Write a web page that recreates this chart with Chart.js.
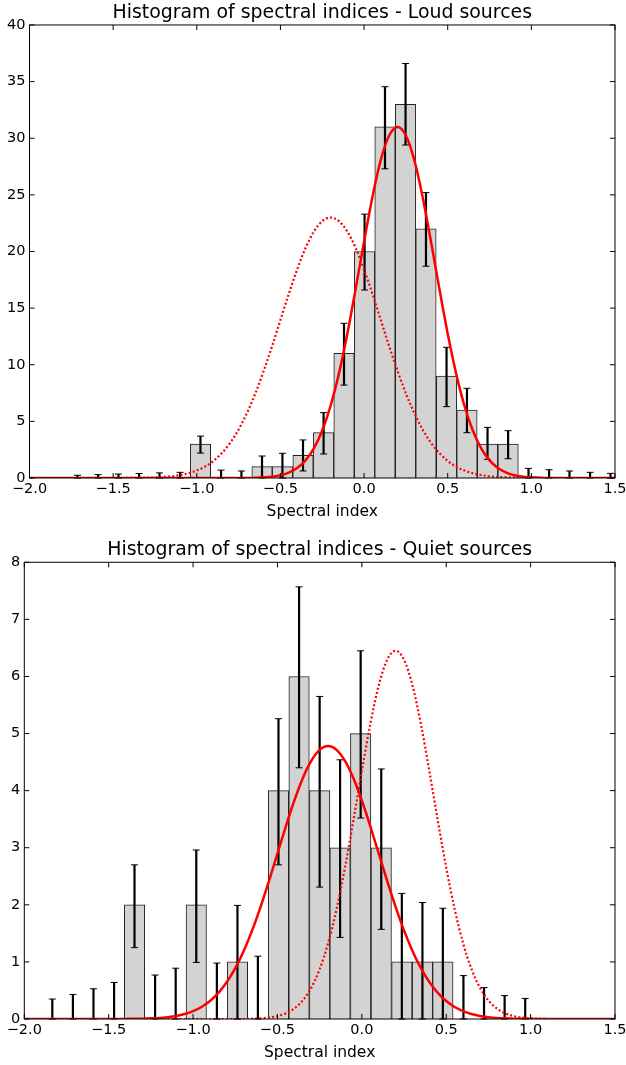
<!DOCTYPE html>
<html>
<head>
<meta charset="utf-8">
<script src="https://cdn.jsdelivr.net/npm/chart.js@4.4.1/dist/chart.umd.min.js"></script>
<style>
  body { margin: 0; background: #fff; }
  canvas { display: block; }
</style>
</head>
<body>
<canvas id="loudChart" width="626" height="530"></canvas>
<canvas id="quietChart" width="626" height="535"></canvas>
<script>
// ---- data ----

// loud sources histogram: bin centres, counts, error bar ends
var loudCenters = [-1.713, -1.590, -1.468, -1.345, -1.223, -1.100, -0.978, -0.855, -0.733,
  -0.610, -0.488, -0.365, -0.242, -0.120, 0.003, 0.125, 0.248, 0.370, 0.493, 0.615,
  0.738, 0.861, 0.983, 1.106, 1.228, 1.351, 1.473];
var loudCounts = [0, 0, 0, 0, 0, 0, 3, 0, 0, 1, 1, 2, 4, 11, 20, 31, 33, 22, 9, 6, 3, 3, 0, 0, 0, 0, 0];
var loudErrLow = [0, 0, 0, 0, 0, 0, 2.2, 0, 0, 0, 0, 0.62, 2.12, 8.2, 16.6, 27.3, 29.4, 18.7,
  6.3, 4.0, 1.65, 1.7, 0, 0, 0, 0, 0];
var loudErrHigh = [0.24, 0.3, 0.35, 0.4, 0.45, 0.5, 3.7, 0.7, 0.62, 1.94, 2.18, 3.36, 5.77,
  13.66, 23.3, 34.55, 36.6, 25.2, 11.54, 7.92, 4.47, 4.18, 0.85, 0.73, 0.62, 0.5, 0.41];

// quiet sources histogram
var quietCenters = [-1.834, -1.712, -1.590, -1.468, -1.347, -1.225, -1.103, -0.981, -0.859,
  -0.737, -0.616, -0.494, -0.372, -0.250, -0.129, -0.007, 0.115, 0.237, 0.359, 0.480,
  0.602, 0.724, 0.846, 0.968];
var quietCounts = [0, 0, 0, 0, 2, 0, 0, 2, 0, 1, 0, 4, 6, 4, 3, 5, 3, 1, 1, 1, 0, 0, 0, 0];
var quietErrLow = [0, 0, 0, 0, 1.25, 0, 0, 0.99, 0, 0, 0, 2.7, 4.4, 2.31, 1.43, 3.52, 1.57,
  0, 0, 0, 0, 0, 0, 0];
var quietErrHigh = [0.35, 0.43, 0.53, 0.64, 2.7, 0.77, 0.89, 2.96, 0.98, 1.99, 1.1, 5.26,
  7.57, 5.65, 4.54, 6.45, 4.38, 2.2, 2.04, 1.94, 0.76, 0.55, 0.41, 0.36];

// fitted curves, sampled every 0.05 along the spectral index axis
var curveX = [-2.0, -1.95, -1.9, -1.85, -1.8, -1.75, -1.7, -1.65, -1.6, -1.55, -1.5, -1.45,
  -1.4, -1.35, -1.3, -1.25, -1.2, -1.15, -1.1, -1.05, -1.0, -0.95, -0.9, -0.85, -0.8, -0.75,
  -0.7, -0.65, -0.6, -0.55, -0.5, -0.45, -0.4, -0.35, -0.3, -0.25, -0.2, -0.15, -0.1, -0.05,
  0, 0.05, 0.1, 0.15, 0.2, 0.25, 0.3, 0.35, 0.4, 0.45, 0.5, 0.55, 0.6, 0.65, 0.7, 0.75, 0.8,
  0.85, 0.9, 0.95, 1.0, 1.05, 1.1, 1.15, 1.2, 1.25, 1.3, 1.35, 1.4, 1.45, 1.5];

var loudFit = [0, 0, 0, 0, 0, 0, 0, 0, 0, 0, 0, 0, 0, 0, 0, 0, 0, 0, 0, 0, 0, 0, 0, 0, 0, 0, 0,
  0.02, 0.06, 0.12, 0.24, 0.48, 0.88, 1.56, 2.62, 4.19, 6.38, 9.24, 12.74, 16.72, 20.88,
  24.82, 28.09, 30.24, 31.0, 30.24, 28.09, 24.82, 20.88, 16.72, 12.74, 9.24, 6.38, 4.19,
  2.62, 1.56, 0.88, 0.48, 0.24, 0.12, 0.06, 0.02,
  0, 0, 0, 0, 0, 0, 0, 0, 0];
var loudOtherFit = [0, 0, 0, 0, 0, 0, 0, 0, 0, 0, 0, 0,
  0.01, 0.015, 0.03, 0.05, 0.09, 0.15, 0.26, 0.42, 0.66, 1.01, 1.51, 2.2, 3.11, 4.28, 5.74,
  7.47, 9.46, 11.64, 13.95, 16.25, 18.42, 20.3, 21.76, 22.68, 23.0, 22.68, 21.76, 20.3,
  18.42, 16.25, 13.95, 11.64, 9.46, 7.47, 5.74, 4.28, 3.11, 2.2, 1.51, 1.01, 0.66, 0.42,
  0.26, 0.15, 0.09, 0.05, 0.03, 0.015, 0.01,
  0, 0, 0, 0, 0, 0, 0, 0, 0, 0];

var quietFit = [0, 0, 0, 0, 0, 0, 0, 0, 0, 0, 0, 0,
  0.002, 0.003, 0.006, 0.011, 0.018, 0.032, 0.053, 0.087, 0.137, 0.21, 0.314, 0.457, 0.647,
  0.89, 1.192, 1.552, 1.965, 2.42, 2.899, 3.378, 3.827, 4.218, 4.521, 4.714, 4.78, 4.714,
  4.521, 4.218, 3.827, 3.378, 2.899, 2.42, 1.965, 1.552, 1.192, 0.89, 0.647, 0.457, 0.314,
  0.21, 0.137, 0.087, 0.053, 0.032, 0.018, 0.011, 0.006, 0.003, 0.002,
  0, 0, 0, 0, 0, 0, 0, 0, 0, 0];
var quietOtherFit = [0, 0, 0, 0, 0, 0, 0, 0, 0, 0, 0, 0, 0, 0, 0, 0, 0, 0, 0, 0, 0, 0, 0, 0, 0, 0, 0,
  0.005, 0.012, 0.025, 0.051, 0.099, 0.184, 0.324, 0.546, 0.872, 1.327, 1.922, 2.651,
  3.478, 4.344, 5.165, 5.844, 6.293, 6.45, 6.293, 5.844, 5.165, 4.344, 3.478, 2.651, 1.922,
  1.327, 0.872, 0.546, 0.324, 0.184, 0.099, 0.051, 0.025, 0.012, 0.005,
  0, 0, 0, 0, 0, 0, 0, 0, 0];

var xTicks = [-2.0, -1.5, -1.0, -0.5, 0.0, 0.5, 1.0, 1.5];

// ---- helpers ----
var FONT = "DejaVu Sans";

function toPoints(xs, ys) {
  return xs.map(function (x, i) { return { x: x, y: ys[i] }; });
}

function fmtX(v) {
  var s = Math.abs(v).toFixed(1);
  return v < -1e-9 ? "\u2212" + s : s;
}

// error bars (drawn right after the bars) + matplotlib-like frame with inward ticks
var histExtras = {
  id: "histExtras",
  afterDatasetDraw: function (chart, args, opts) {
    if (args.index !== 0) return;
    var ctx = chart.ctx, xs = chart.scales.x, ys = chart.scales.y;
    ctx.save();
    ctx.strokeStyle = "#000";
    for (var i = 0; i < opts.centers.length; i++) {
      var px = xs.getPixelForValue(opts.centers[i]);
      var top = ys.getPixelForValue(opts.hi[i]);
      var bot = ys.getPixelForValue(opts.lo[i]);
      ctx.lineWidth = 2.2;
      ctx.beginPath();
      ctx.moveTo(px, top);
      ctx.lineTo(px, bot);
      ctx.stroke();
      ctx.lineWidth = 1;
      ctx.beginPath();
      ctx.moveTo(px - 3.5, top);
      ctx.lineTo(px + 3.5, top);
      ctx.moveTo(px - 3.5, bot);
      ctx.lineTo(px + 3.5, bot);
      ctx.stroke();
    }
    ctx.restore();
  },
  afterDraw: function (chart) {
    var ctx = chart.ctx, a = chart.chartArea;
    var xs = chart.scales.x, ys = chart.scales.y;
    ctx.save();
    ctx.strokeStyle = "#000";
    ctx.lineWidth = 1;
    ctx.strokeRect(a.left, a.top, a.right - a.left, a.bottom - a.top);
    ctx.beginPath();
    xs.ticks.forEach(function (t) {
      var px = xs.getPixelForValue(t.value);
      ctx.moveTo(px, a.bottom); ctx.lineTo(px, a.bottom - 5);
      ctx.moveTo(px, a.top); ctx.lineTo(px, a.top + 5);
    });
    ys.ticks.forEach(function (t) {
      var py = ys.getPixelForValue(t.value);
      ctx.moveTo(a.left, py); ctx.lineTo(a.left + 5, py);
      ctx.moveTo(a.right, py); ctx.lineTo(a.right - 5, py);
    });
    ctx.stroke();
    ctx.restore();
  }
};

function makeChart(id, cfg) {
  var ctx = document.getElementById(id).getContext("2d");
  return new Chart(ctx, {
    type: "bar",
    data: {
      datasets: [
        {
          type: "bar",
          data: toPoints(cfg.centers, cfg.counts),
          backgroundColor: "#d3d3d3",
          borderColor: "#222",
          borderWidth: 1,
          barPercentage: 1,
          categoryPercentage: 1,
          order: 3
        },
        {
          type: "line",
          data: toPoints(curveX, cfg.fit),
          borderColor: "#ff0000",
          borderWidth: 2.5,
          pointRadius: 0,
          fill: false,
          cubicInterpolationMode: "monotone",
          order: 1
        },
        {
          type: "line",
          data: toPoints(curveX, cfg.otherFit),
          borderColor: "#ff0000",
          borderWidth: 2.2,
          borderDash: [2, 2.2],
          borderCapStyle: "butt",
          pointRadius: 0,
          fill: false,
          cubicInterpolationMode: "monotone",
          order: 2
        }
      ]
    },
    options: {
      responsive: false,
      animation: false,
      devicePixelRatio: 1,
      layout: { padding: { left: 0, right: 0, top: 0, bottom: 0 } },
      plugins: {
        legend: { display: false },
        tooltip: { enabled: false },
        title: {
          display: true,
          fullSize: false,
          text: cfg.title,
          color: "#000",
          font: { family: FONT, size: 18.9, weight: "normal" },
          padding: cfg.titlePad
        },
        histExtras: { centers: cfg.centers, lo: cfg.lo, hi: cfg.hi }
      },
      scales: {
        x: {
          type: "linear",
          min: -2,
          max: 1.5,
          offset: false,
          grid: { display: false, drawTicks: false },
          border: { display: false },
          afterBuildTicks: function (s) {
            s.ticks = xTicks.map(function (v) { return { value: v }; });
          },
          ticks: {
            color: "#000",
            font: { family: FONT, size: 14.5 },
            padding: 3,
            maxRotation: 0,
            autoSkip: false,
            callback: fmtX
          },
          title: {
            display: true,
            text: "Spectral index",
            color: "#000",
            font: { family: FONT, size: 15.5 },
            padding: { top: 0, bottom: cfg.xTitleBottom }
          },
          afterFit: function (s) {
            s.height = cfg.xHeight;
            s.paddingLeft = 0;
            s.paddingRight = 11;
          }
        },
        y: {
          min: 0,
          max: cfg.yMax,
          grid: { display: false, drawTicks: false },
          border: { display: false },
          ticks: {
            stepSize: cfg.yStep,
            color: "#000",
            font: { family: FONT, size: 14.5 },
            padding: 4
          },
          afterFit: function (s) { s.width = cfg.yWidth; }
        }
      }
    },
    plugins: [histExtras]
  });
}

var loudChart = makeChart("loudChart", {
  title: "Histogram of spectral indices - Loud sources",
  titlePad: { top: 2, bottom: 0.3 },
  centers: loudCenters,
  counts: loudCounts,
  lo: loudErrLow,
  hi: loudErrHigh,
  fit: loudFit,
  otherFit: loudOtherFit,
  yMax: 40,
  yStep: 5,
  yWidth: 29.5,
  xHeight: 52,
  xTitleBottom: 9.2
});

var quietChart = makeChart("quietChart", {
  title: "Histogram of spectral indices - Quiet sources",
  titlePad: { top: 8.5, bottom: 1.1 },
  centers: quietCenters,
  counts: quietCounts,
  lo: quietErrLow,
  hi: quietErrHigh,
  fit: quietFit,
  otherFit: quietOtherFit,
  yMax: 8,
  yStep: 1,
  yWidth: 24.3,
  xHeight: 46,
  xTitleBottom: 2.7
});
</script>
</body>
</html>
